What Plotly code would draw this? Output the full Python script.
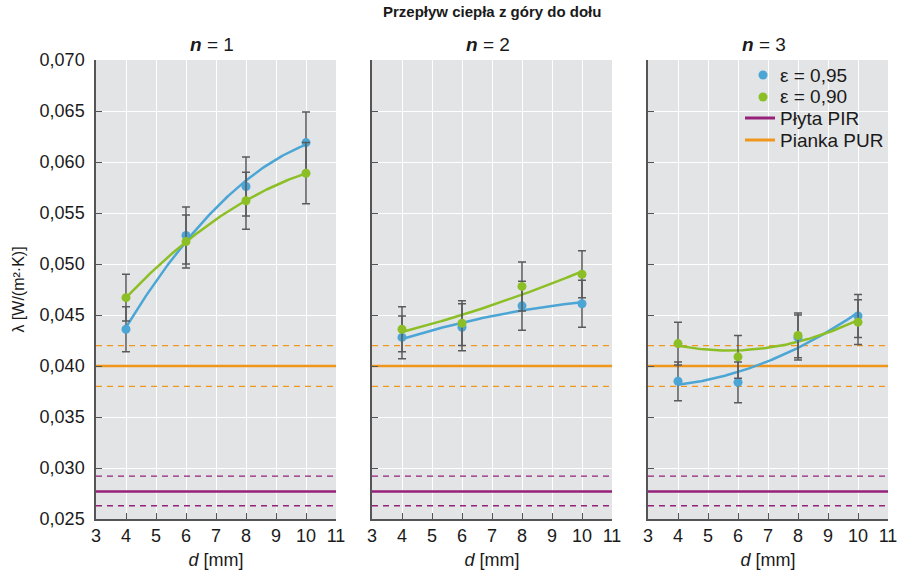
import numpy as np
import plotly.graph_objects as go
from plotly.subplots import make_subplots

d_vals = [4, 6, 8, 10]
panel_titles = ["<b><i>n</i></b> = 1", "<b><i>n</i></b> = 2", "<b><i>n</i></b> = 3"]

# lambda values, eps = 0.95 (blue) and eps = 0.90 (green), per panel n=1..3
blue_n1 = [0.0436, 0.0528, 0.0576, 0.0619]
blue_n1_err = [0.0022, 0.0028, 0.0029, 0.0030]
green_n1 = [0.0467, 0.0522, 0.0562, 0.0589]
green_n1_err = [0.0023, 0.0026, 0.0028, 0.0030]

blue_n2 = [0.0428, 0.0438, 0.0459, 0.0461]
blue_n2_err = [0.0021, 0.0023, 0.0024, 0.0023]
green_n2 = [0.0436, 0.0442, 0.0478, 0.0490]
green_n2_err = [0.0022, 0.0022, 0.0024, 0.0023]

blue_n3 = [0.0385, 0.0384, 0.0428, 0.0449]
blue_n3_err = [0.0019, 0.0020, 0.0022, 0.0021]
green_n3 = [0.0422, 0.0409, 0.0430, 0.0443]
green_n3_err = [0.0021, 0.0021, 0.0022, 0.0022]

pir_value = 0.0277
pir_band = [0.0263, 0.0292]
pur_value = 0.0400
pur_band = [0.0380, 0.0420]

x_ticks = [3, 4, 5, 6, 7, 8, 9, 10, 11]
y_ticks = [0.025, 0.030, 0.035, 0.040, 0.045, 0.050, 0.055, 0.060, 0.065, 0.070]

legend_labels = ["ε = 0,95", "ε = 0,90", "Płyta PIR", "Pianka PUR"]

BLUE = "#4ba6d6"
GREEN = "#8cbf26"
PURPLE = "#962178"
ORANGE = "#f0961c"
ERR = "#5a5a5a"
BG = "#e3e4e6"
AX = "#555555"
TXT = "#1a1a1a"

FONT = "Liberation Sans, Arial, sans-serif"

fig = make_subplots(rows=1, cols=3, horizontal_spacing=36 / 792, shared_yaxes=False)

panels = [
    (blue_n1, blue_n1_err, green_n1, green_n1_err),
    (blue_n2, blue_n2_err, green_n2, green_n2_err),
    (blue_n3, blue_n3_err, green_n3, green_n3_err),
]

xs_line = [3, 11]
for i, (b, be, g, ge) in enumerate(panels):
    col = i + 1
    # reference lines
    for band_v in pir_band:
        fig.add_trace(go.Scatter(x=xs_line, y=[band_v, band_v], mode="lines",
                                 line=dict(color=PURPLE, width=1.3, dash="6px,5px"),
                                 showlegend=False, hoverinfo="skip"), row=1, col=col)
    for band_v in pur_band:
        fig.add_trace(go.Scatter(x=xs_line, y=[band_v, band_v], mode="lines",
                                 line=dict(color=ORANGE, width=1.3, dash="6px,5px"),
                                 showlegend=False, hoverinfo="skip"), row=1, col=col)
    fig.add_trace(go.Scatter(x=xs_line, y=[pir_value, pir_value], mode="lines", name=legend_labels[2],
                             line=dict(color=PURPLE, width=2.5),
                             showlegend=False, hoverinfo="skip"), row=1, col=col)
    fig.add_trace(go.Scatter(x=xs_line, y=[pur_value, pur_value], mode="lines", name=legend_labels[3],
                             line=dict(color=ORANGE, width=2.5),
                             showlegend=False, hoverinfo="skip"), row=1, col=col)
    # fitted trend curves (quadratic least squares of the points)
    xf = np.linspace(4, 10, 120)
    for vals, colr in ((b, BLUE), (g, GREEN)):
        coef = np.polyfit(d_vals, vals, 2)
        fig.add_trace(go.Scatter(x=xf, y=np.polyval(coef, xf), mode="lines",
                                 line=dict(color=colr, width=2.5),
                                 showlegend=False, hoverinfo="skip"), row=1, col=col)
    # points with error bars
    fig.add_trace(go.Scatter(x=d_vals, y=b, mode="markers", name=legend_labels[0],
                             marker=dict(color=BLUE, size=9),
                             error_y=dict(type="data", array=be, color=ERR, thickness=1.5, width=4),
                             showlegend=False), row=1, col=col)
    fig.add_trace(go.Scatter(x=d_vals, y=g, mode="markers", name=legend_labels[1],
                             marker=dict(color=GREEN, size=9),
                             error_y=dict(type="data", array=ge, color=ERR, thickness=1.5, width=4),
                             showlegend=False), row=1, col=col)

for i in range(3):
    col = i + 1
    fig.update_xaxes(range=[3, 11], tickvals=x_ticks, ticktext=[str(t) for t in x_ticks],
                     showgrid=True, gridcolor="white", gridwidth=1.2,
                     ticks="inside", ticklen=6, tickcolor=AX, tickwidth=1.2,
                     showline=True, linecolor=AX, linewidth=1.5, zeroline=False,
                     automargin=False,
                     tickfont=dict(family=FONT, size=18, color=TXT),
                     title=dict(text="<i>d</i> [mm]", font=dict(family=FONT, size=18, color=TXT),
                                standoff=8),
                     row=1, col=col)
    fig.update_yaxes(range=[0.025, 0.070], tickvals=y_ticks, tickformat=".3f",
                     showgrid=True, gridcolor="white", gridwidth=1.2,
                     ticks="inside", ticklen=6, tickcolor=AX, tickwidth=1.2,
                     showline=True, linecolor=AX, linewidth=1.5, zeroline=False,
                     showticklabels=(i == 0), automargin=False, ticklabelstandoff=6,
                     tickfont=dict(family=FONT, size=18, color=TXT),
                     row=1, col=col)

fig.update_yaxes(title=dict(text="λ [W/(m²·K)]", font=dict(family=FONT, size=16, color=TXT),
                            standoff=11), row=1, col=1)

annotations = [dict(text="<b>Przepływ ciepła z góry do dołu</b>", x=0.5, y=1 + 48 / 459,
                    xref="paper", yref="paper", xanchor="center", yanchor="middle",
                    showarrow=False,
                    font=dict(family="Liberation Sans Narrow, Liberation Sans, Arial", size=15,
                              color=TXT))]
centers = [(96 + 116 - 96) / 792, (372 + 116 - 96) / 792, (648 + 116 - 96) / 792]
for c, t in zip(centers, panel_titles):
    annotations.append(dict(text=t, x=c, y=1.0, xref="paper", yref="paper", xanchor="center",
                            yanchor="bottom", yshift=3, showarrow=False,
                            font=dict(family=FONT, size=19, color=TXT)))

# manual legend (compact line spacing as in the original)
def px_x(p):
    return (p - 96) / 792


def px_y(p):
    return (519 - p) / 459


leg_rows = [75, 97, 118, 140]
shapes = []
for k, (label, row_y) in enumerate(zip(legend_labels, leg_rows)):
    annotations.append(dict(text=label, x=px_x(778), y=px_y(row_y), xref="paper", yref="paper",
                            xanchor="left", yanchor="middle", showarrow=False,
                            font=dict(family=FONT, size=19, color=TXT)))
    if k < 2:
        colr = BLUE if k == 0 else GREEN
        shapes.append(dict(type="circle", xref="paper", yref="paper",
                           xsizemode="pixel", ysizemode="pixel",
                           xanchor=px_x(763), yanchor=px_y(row_y),
                           x0=-4.5, x1=4.5, y0=-4.5, y1=4.5,
                           fillcolor=colr, line=dict(width=0)))
    else:
        colr = PURPLE if k == 2 else ORANGE
        shapes.append(dict(type="line", xref="paper", yref="paper",
                           x0=px_x(745), x1=px_x(775), y0=px_y(row_y), y1=px_y(row_y),
                           line=dict(color=colr, width=3)))

fig.update_layout(
    width=900, height=577,
    margin=dict(l=96, r=12, t=60, b=58),
    paper_bgcolor="white", plot_bgcolor=BG,
    separators=", ",
    font=dict(family=FONT, size=16, color=TXT),
    annotations=annotations,
    shapes=shapes,
    showlegend=False,
)

fig.write_html("out.html", config={"displayModeBar": False},
               post_script="document.body.style.margin='0';document.body.style.overflow='hidden';")
